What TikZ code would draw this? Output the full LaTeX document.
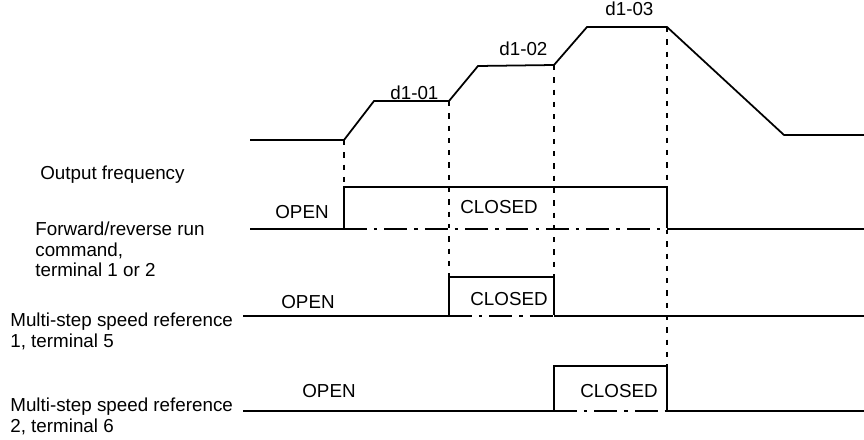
\documentclass[tikz,border=0pt]{standalone}
\usepackage{fontspec}
\setmainfont{Liberation Sans}
\usetikzlibrary{positioning}
\tikzset{
  % forma d'onda
  wave/.style={line width=1pt, line join=miter},
  % tratto basso sotto un impulso chiuso
  lowdash/.style={line width=1pt, dash pattern=on 13pt off 4pt on 2pt off 4pt},
  % riferimenti verticali
  guide/.style={line width=1pt, dash pattern=on 3pt off 4pt},
  % etichette
  lbl/.style={font=\fontsize{10.7}{11.6}\selectfont, inner sep=0pt, anchor=base west},
  sidelbl/.style={lbl, align=left, anchor=north west},
}
% #1 inizio, #2 livello basso, #3 livello alto, #4 salita, #5 discesa
\newcommand{\pulse}[5]{%
  \draw[wave] (#1,#2) -- (#4,#2) |- (#5,#3) -- (#5,#2) -- (864,#2);
  \draw[white, line width=1.5pt] (#4,#2) -- (#5,#2);
  \draw[lowdash] (#4,#2) -- (#5,#2);
}

\begin{document}
\begin{tikzpicture}[x=0.02cm, y=-0.02cm]
  \useasboundingbox (0,0) rectangle (864,439);
  % frequenza di uscita
  \draw[wave] (250,140) -- (344,140) -- (374,101) -- (449,101) -- (478,66) -- (554,65)
    -- (587,27) -- (667,27) -- (784,135) -- (864,135);
  \node[lbl] (d101) at (390,99) {d1-01};
  \node[lbl] (d102) at (499,56) {d1-02};
  \node[lbl] (d103) at (605,16) {d1-03};
  \node[lbl] (freq) at (40,179) {Output frequency};
  % riferimenti verticali
  \draw[guide] (344,140) -- (344,187);
  \draw[guide] (449,101) -- (449,277);
  \draw[guide] (554,65) -- (554,277);
  \draw[guide] (667,27) -- (667,187);
  \draw[guide] (667,229) -- (667,366);
  % marcia avanti/indietro
  \pulse{250}{229}{187}{344}{667}
  \node[lbl] (open1) at (275,218) {OPEN};
  \node[lbl] (closed1) at (460,213) {CLOSED};
  \node[sidelbl] (fwd) at (35,222) {Forward/reverse run\\command,\\terminal 1 or 2};
  % multivelocita 1
  \pulse{243}{316}{277}{449}{554}
  \node[lbl] (open2) at (281,308) {OPEN};
  \node[lbl] (closed2) at (470,305) {CLOSED};
  \node[sidelbl] (ms1) at (10,313) {Multi-step speed reference\\1, terminal 5};
  % multivelocita 2
  \pulse{243}{411}{366}{554}{667}
  \node[lbl] (open3) at (302,397) {OPEN};
  \node[lbl] (closed3) at (580,397) {CLOSED};
  \node[sidelbl] (ms2) at (10,398) {Multi-step speed reference\\2, terminal 6};
\end{tikzpicture}
\end{document}
